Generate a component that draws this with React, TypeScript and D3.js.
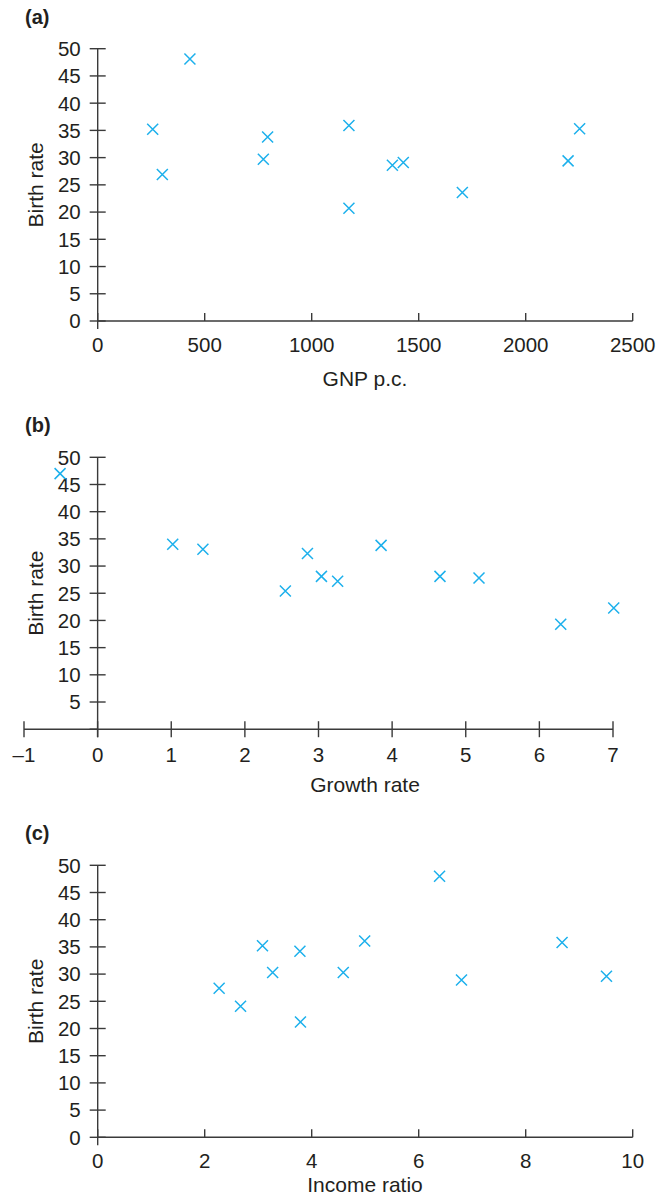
import React from "react";
import * as d3 from "d3";

// ---- Data ----
const gnpPC = [257, 302, 431, 774, 794, 1174, 1174, 1377, 1428, 1704, 2198, 2252];
const birthRateA = [35.2, 26.9, 48.1, 29.7, 33.8, 35.9, 20.7, 28.6, 29.1, 23.6, 29.4, 35.3];

const growthRate = [-0.51, 1.02, 1.43, 2.55, 2.85, 3.04, 3.26, 3.85, 4.65, 5.18, 6.29, 7.01];
const birthRateB = [47.0, 34.0, 33.1, 25.4, 32.3, 28.1, 27.2, 33.8, 28.1, 27.8, 19.3, 22.3];

const incomeRatio = [2.27, 2.67, 3.08, 3.27, 3.78, 3.79, 4.59, 4.99, 6.39, 6.8, 8.68, 9.51];
const birthRateC = [27.4, 24.1, 35.2, 30.3, 34.2, 21.2, 30.3, 36.1, 48.0, 28.9, 35.8, 29.6];

const xTicksA = [0, 500, 1000, 1500, 2000, 2500];
const xTicksB = [-1, 0, 1, 2, 3, 4, 5, 6, 7];
const xTicksC = [0, 2, 4, 6, 8, 10];
const yTicksAC = [0, 5, 10, 15, 20, 25, 30, 35, 40, 45, 50];
const yTicksB = [5, 10, 15, 20, 25, 30, 35, 40, 45, 50];

const FONT = "'Liberation Sans', Arial, Helvetica, sans-serif";
const TEXT = "#231f20";
const AXIS = "#3a3a3a";
const MARK = "#1cb0ec";
const TICK_FS = 20.5;
const TITLE_FS = 21;

type PanelProps = {
  label: string;
  labelY: number;
  xs: number[];
  ys: number[];
  xDomain: [number, number];
  xRange: [number, number];
  yRange: [number, number];
  xTicks: number[];
  yTicks: number[];
  xTitle: string;
  xTickBoth: boolean;
  tickLabelOffset: number;
  titleOffset: number;
};

function fmt(v: number) {
  return v < 0 ? "\u2013" + Math.abs(v) : String(v);
}

function Panel(p: PanelProps) {
  const x = d3.scaleLinear().domain(p.xDomain).range(p.xRange);
  const y = d3.scaleLinear().domain([0, 50]).range(p.yRange);
  const x0 = x(0);
  const y0 = y(0);
  const t = 8;
  const r = 5.5;
  const yMid = (y(0) + y(50)) / 2;
  return (
    <g>
      <text x={25} y={p.labelY} fontFamily={FONT} fontWeight="bold" fontSize={20} fill={TEXT}>
        {p.label}
      </text>
      {/* y axis */}
      <line x1={x0} x2={x0} y1={y(50)} y2={y0 + t} stroke={AXIS} strokeWidth={1.4} />
      {/* x axis */}
      <line x1={p.xRange[0]} x2={p.xRange[1]} y1={y0} y2={y0} stroke={AXIS} strokeWidth={1.4} />
      {/* y ticks */}
      {p.yTicks.map((v) => (
        <g key={"y" + v}>
          <line x1={x0 - t} x2={x0 + t} y1={y(v)} y2={y(v)} stroke={AXIS} strokeWidth={1.4} />
          <text
            x={x0 - 17}
            y={y(v)}
            dy="0.36em"
            textAnchor="end"
            fontFamily={FONT}
            fontSize={TICK_FS}
            fill={TEXT}
          >
            {fmt(v)}
          </text>
        </g>
      ))}
      {p.yTicks[0] !== 0 && (
        <line x1={x0 - t} x2={x0} y1={y0} y2={y0} stroke={AXIS} strokeWidth={1.4} />
      )}
      {/* x ticks */}
      {p.xTicks.map((v) => (
        <g key={"x" + v}>
          <line
            x1={x(v)}
            x2={x(v)}
            y1={y0 - t}
            y2={p.xTickBoth ? y0 + t : y0}
            stroke={AXIS}
            strokeWidth={1.4}
          />
          <text
            x={x(v)}
            y={y0 + p.tickLabelOffset}
            textAnchor="middle"
            fontFamily={FONT}
            fontSize={TICK_FS}
            fill={TEXT}
          >
            {fmt(v)}
          </text>
        </g>
      ))}
      {/* titles */}
      <text
        x={365}
        y={y0 + p.titleOffset}
        textAnchor="middle"
        fontFamily={FONT}
        fontSize={TITLE_FS}
        fill={TEXT}
      >
        {p.xTitle}
      </text>
      <text
        transform={`translate(42.5,${yMid}) rotate(-90)`}
        textAnchor="middle"
        fontFamily={FONT}
        fontSize={TITLE_FS}
        fill={TEXT}
      >
        Birth rate
      </text>
      {/* markers */}
      {p.xs.map((xv, i) => {
        const cx = x(xv);
        const cy = y(p.ys[i]);
        return (
          <path
            key={"m" + i}
            d={`M${cx - r},${cy - r}L${cx + r},${cy + r}M${cx - r},${cy + r}L${cx + r},${cy - r}`}
            stroke={MARK}
            strokeWidth={1.5}
            fill="none"
          />
        );
      })}
    </g>
  );
}

export default function App() {
  return (
    <svg
      width={658}
      height={1203}
      style={{ position: "absolute", left: 0, top: 0, background: "#fff" }}
    >
      <rect width={658} height={1203} fill="#fff" />
      <Panel
        label="(a)"
        labelY={24}
        xs={gnpPC}
        ys={birthRateA}
        xDomain={[0, 2500]}
        xRange={[97.7, 632.7]}
        yRange={[321, 48.7]}
        xTicks={xTicksA}
        yTicks={yTicksAC}
        xTitle="GNP p.c."
        xTickBoth={false}
        tickLabelOffset={30.7}
        titleOffset={65}
      />
      <Panel
        label="(b)"
        labelY={432}
        xs={growthRate}
        ys={birthRateB}
        xDomain={[-1, 7]}
        xRange={[24, 613]}
        yRange={[729.2, 457.3]}
        xTicks={xTicksB}
        yTicks={yTicksB}
        xTitle="Growth rate"
        xTickBoth={true}
        tickLabelOffset={32.4}
        titleOffset={62.5}
      />
      <Panel
        label="(c)"
        labelY={840}
        xs={incomeRatio}
        ys={birthRateC}
        xDomain={[0, 10]}
        xRange={[97.7, 632.7]}
        yRange={[1137.3, 865.3]}
        xTicks={xTicksC}
        yTicks={yTicksAC}
        xTitle="Income ratio"
        xTickBoth={false}
        tickLabelOffset={31}
        titleOffset={54.5}
      />
    </svg>
  );
}
